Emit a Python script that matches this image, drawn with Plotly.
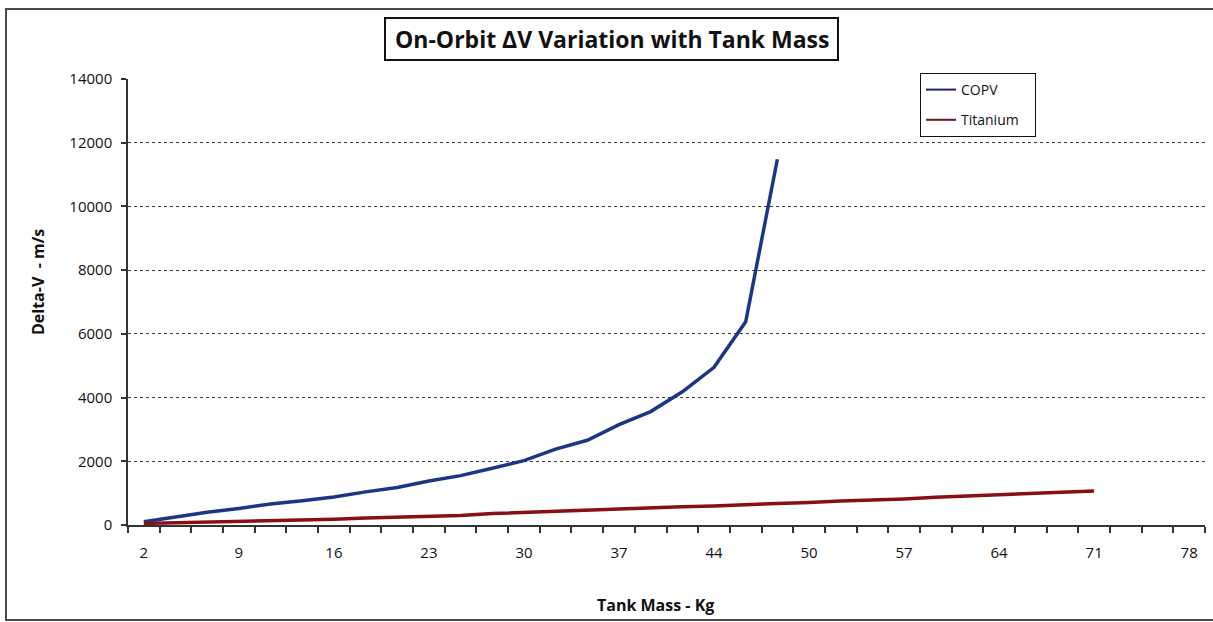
import plotly.graph_objects as go

# Tank mass categories (kg) along the horizontal axis
tank_mass = [2, 4, 7, 9, 11, 14, 16, 18, 21, 23, 25, 28, 30, 32, 35, 37, 39,
             42, 44, 46, 48, 50, 53, 55, 57, 60, 62, 64, 67, 69, 71, 74, 76, 78]

# On-orbit delta-V (m/s) for each tank technology
copv_dv = [100, 250, 400, 520, 660, 760, 880, 1040, 1180, 1380, 1550, 1780,
           2020, 2380, 2660, 3150, 3560, 4180, 4950, 6380, 11480]
titanium_dv = [50, 70, 90, 115, 135, 160, 180, 220, 245, 270, 300, 360, 400,
               430, 460, 500, 540, 575, 600, 630, 670, 710, 750, 780, 820,
               870, 910, 950, 990, 1030, 1070]

y_ticks = [0, 2000, 4000, 6000, 8000, 10000, 12000, 14000]

COPV_COLOR = "#1b3685"
TI_COLOR = "#8a0f14"
FONT = "Open Sans"

idx = list(range(len(tank_mass)))

fig = go.Figure()
fig.add_trace(go.Scatter(x=idx[:len(copv_dv)], y=copv_dv, mode="lines",
                         line=dict(color=COPV_COLOR, width=3.5),
                         showlegend=False, hoverinfo="x+y"))
fig.add_trace(go.Scatter(x=idx[:len(titanium_dv)], y=titanium_dv, mode="lines",
                         line=dict(color=TI_COLOR, width=3.5),
                         showlegend=False, hoverinfo="x+y"))
# thinner keys for the legend box
fig.add_trace(go.Scatter(x=[None], y=[None], mode="lines", name="COPV",
                         legendgroup="a",
                         line=dict(color="#1a2466", width=2)))
fig.add_trace(go.Scatter(x=[None], y=[None], mode="lines",
                         name="Titanium\u00a0\u00a0\u00a0",
                         legendgroup="b",
                         line=dict(color="#6e1420", width=2)))

label_pos = idx[::3]
label_txt = [str(tank_mass[i]) for i in label_pos]

fig.update_xaxes(
    range=[-0.5, len(tank_mass) - 0.5],
    tickmode="array", tickvals=label_pos, ticktext=label_txt,
    ticks="", ticklabelstandoff=13,
    showgrid=False, zeroline=False,
    showline=True, linecolor="#333", linewidth=1.5,
    tickfont=dict(family=FONT, size=15, color="#111"),
    minor=dict(tickmode="array",
               tickvals=[i - 0.5 for i in range(len(tank_mass) + 1)],
               ticks="outside", ticklen=6, tickcolor="#333", tickwidth=1.5,
               showgrid=False),
)
fig.update_yaxes(
    range=[0, 14000],
    tickmode="array", tickvals=y_ticks, ticktext=[str(v) for v in y_ticks],
    ticks="outside", ticklen=5, tickcolor="#333", tickwidth=1.5,
    ticklabelstandoff=6,
    showgrid=True, gridcolor="#3a3a3a", gridwidth=1, griddash="dot",
    zeroline=False,
    showline=True, linecolor="#333", linewidth=1.5,
    tickfont=dict(family=FONT, size=15, color="#111"),
)

W, H = 1213, 622
L, R, T, B = 128, 8, 79, 97
pw, ph = W - L - R, H - T - B


def px(x):
    return (x - L) / pw


def py(y):
    return (H - B - y) / ph


shapes = [
    # outer frame
    dict(type="rect", xref="paper", yref="paper",
         x0=px(6), x1=px(1216), y0=py(620), y1=py(9),
         line=dict(color="#4a4a4a", width=2), layer="below"),
    # title box
    dict(type="rect", xref="paper", yref="paper",
         x0=px(385), x1=px(838), y0=py(60), y1=py(18),
         line=dict(color="#111", width=2), fillcolor="white"),
]

annotations = [
    dict(text="<b>On-Orbit \u0394V Variation with Tank Mass</b>",
         xref="paper", yref="paper",
         x=px(612), y=py(39), xanchor="center", yanchor="middle",
         showarrow=False, font=dict(family=FONT, size=23, color="#111")),
    dict(text="<b>Tank Mass - Kg</b>",
         xref="paper", yref="paper",
         x=px(655), y=py(605), xanchor="center", yanchor="middle",
         showarrow=False, font=dict(family=FONT, size=16, color="#111")),
    dict(text="<b>Delta-V\u00a0 - m/s</b>", textangle=-90,
         xref="paper", yref="paper",
         x=px(38), y=py(282), xanchor="center", yanchor="middle",
         showarrow=False, font=dict(family=FONT, size=16, color="#111")),
]

fig.update_layout(
    width=W, height=H,
    margin=dict(l=L, r=R, t=T, b=B),
    paper_bgcolor="white", plot_bgcolor="white",
    shapes=shapes,
    annotations=annotations,
    legend=dict(x=px(920), y=py(73), xanchor="left", yanchor="top",
                bgcolor="white", bordercolor="#111", borderwidth=1,
                font=dict(family=FONT, size=14, color="#111"),
                tracegroupgap=9, itemwidth=30),
    showlegend=True,
)

fig.write_html("out.html")
